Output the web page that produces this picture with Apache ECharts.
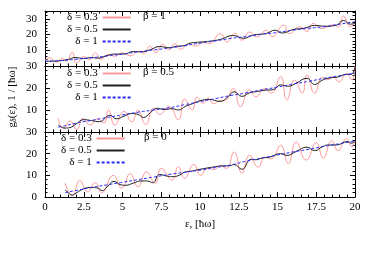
<!DOCTYPE html>
<html><head><meta charset="utf-8">
<script src="https://cdn.jsdelivr.net/npm/echarts@6/dist/echarts.min.js"></script>
<style>html,body{margin:0;padding:0;background:#fff}#c{width:375px;height:263px}</style>
</head><body><div id="c"></div>
<script>
const seriesNames = ['δ = 0.3', 'δ = 0.5', 'δ = 1'];
const panelLabels = ['β = 1', 'β = 0.5', 'β = 0'];
const panelMax = [35, 30, 30];
const xLabels = [0, 2.5, 5, 7.5, 10, 12.5, 15, 17.5, 20];

// beta = 1
const topPink = [[0,3.6],[0.3,5.2],[0.75,2.4],[1.1,4.8],[1.4,3.2],[1.75,8.8],[2.05,1.8],[2.5,6.0],[2.85,4.0],[3.25,8.4],[3.6,4.2],[4.1,7.4],[4.5,6.2],[5.0,8.4],[5.5,6.4],[6.0,9.4],[6.4,8.0],[6.75,12.6],[7.15,8.6],[7.6,13.8],[8.0,10.2],[8.35,14.2],[8.75,10.6],[9.3,14.4],[9.7,12.6],[10.2,15.0],[10.6,14.2],[11.3,20.6],[11.75,15.2],[12.25,20.8],[12.7,16.4],[13.2,21.6],[13.65,18.6],[14.3,22.8],[14.65,18.6],[15.4,26.0],[15.75,20.6],[16.45,25.0],[16.9,22.0],[17.3,27.2],[17.85,23.8],[18.6,26.2],[18.95,25.0],[19.25,31.8],[19.7,25.0],[20,27.4]];
const topBlack = [[0,3.0],[0.5,3.1],[1,3.4],[1.5,4.2],[1.95,5.4],[2.5,4.8],[3,5.4],[3.4,5.0],[4,6.6],[4.5,7.6],[5.1,7.6],[5.7,9.2],[6.2,9.0],[6.8,10.4],[7.4,12.4],[8.0,11.6],[8.5,12.6],[8.9,12.8],[9.4,14.6],[10,15.2],[10.8,16.0],[11.3,16.9],[12.15,19.4],[12.8,17.6],[13.4,19.6],[14.3,20.8],[14.85,22.8],[15.3,21.0],[16.0,23.2],[16.7,24.0],[17.4,25.8],[18.1,25.3],[18.8,26.0],[19.25,29.0],[19.7,26.6],[20,27.2]];
const topBlue = [[0,3.0],[1,3.4],[2,4.3],[3,5.2],[4,6.4],[5,7.6],[6,9.0],[7,10.2],[8,11.4],[9,12.9],[10,14.6],[11,16.0],[12,17.6],[13,18.8],[14,20.2],[15,21.4],[16,22.8],[17,24.0],[18,25.0],[19,26.6],[20,28.2]];

// beta = 0.5
const midPink = [[0.85,6.2],[1.2,1.5],[1.6,5.0],[2.05,1.2],[2.45,6.2],[2.9,3.2],[3.4,6.0],[3.8,4.0],[4.1,10.0],[4.5,3.2],[5.1,9.4],[5.6,4.6],[6.0,10.0],[6.5,3.4],[7.0,10.8],[7.4,8.0],[8.0,11.6],[8.6,5.5],[9.0,15.0],[9.5,10.0],[9.8,15.8],[10.2,13.0],[10.5,15.4],[10.9,12.8],[11.3,14.4],[11.6,14.4],[12.15,19.8],[12.6,11.5],[13.2,19.2],[13.6,16.0],[14.2,19.8],[14.6,17.6],[15.2,25.2],[15.6,14.5],[16.1,23.6],[16.6,17.6],[16.9,26.0],[17.4,17.6],[17.9,24.8],[18.3,23.8],[18.6,25.2],[18.95,22.8],[19.45,26.6],[19.8,23.6],[20,30]];
const midBlack = [[0.85,3.2],[1.3,1.8],[1.6,2.0],[2.0,3.6],[2.5,5.6],[3.0,5.2],[3.5,4.7],[4.2,7.6],[4.6,6.0],[5.1,7.2],[5.6,8.4],[6.0,8.0],[6.35,6.6],[6.8,8.8],[7.25,10.8],[7.7,10.2],[8.2,10.6],[8.6,10.0],[9.1,11.8],[9.5,12.8],[10,14.2],[10.6,14.8],[11.3,13.9],[11.8,16.0],[12.2,18.3],[12.7,16.2],[13.2,17.8],[13.7,18.4],[14.2,19.0],[14.7,19.2],[15.2,21.4],[15.7,20.8],[16.2,22.2],[16.9,24.4],[17.4,21.6],[17.9,23.6],[18.4,24.6],[18.9,25.0],[19.45,26.2],[19.75,26.2],[20,29.8]];
const midBlue = [[0.85,2.2],[1,2.4],[2,4.0],[3,5.3],[4,6.6],[5,7.8],[6,9.0],[7,10.0],[8,11.0],[9,12.4],[10,13.8],[11,15.2],[12,16.6],[13,17.8],[14,19.2],[15,20.4],[16,21.8],[17,23.0],[18,24.4],[19,25.6],[20,26.8]];

// beta = 0
const botPink = [[1.3,6.4],[1.75,0.6],[2.25,7.6],[2.75,2.4],[3.25,6.6],[3.65,2.0],[4.4,10.0],[4.95,4.0],[5.5,10.8],[6.0,4.7],[6.55,11.6],[7.1,6.3],[7.5,13.2],[8.2,7.8],[8.6,13.9],[9.0,8.6],[9.6,15.0],[10.05,10.0],[10.5,13.4],[10.9,12.6],[11.3,14.4],[11.7,13.2],[12.2,20.8],[12.7,10.9],[13.2,19.3],[13.75,13.8],[14.2,18.4],[14.6,17.6],[15.2,23.9],[15.7,15.4],[16.2,25.4],[16.85,17.0],[17.5,25.0],[17.95,18.0],[18.5,26.0],[18.9,21.4],[19.45,26.9],[19.8,23.2],[20,25.8]];
const botBlack = [[1.3,3.2],[1.5,2.0],[1.75,0.9],[2.0,1.8],[2.5,3.8],[3.0,4.4],[3.35,4.2],[3.7,3.0],[4.0,4.6],[4.45,7.2],[4.9,5.6],[5.2,5.4],[5.7,6.4],[6.2,7.4],[6.6,7.4],[6.95,6.6],[7.4,10.4],[7.9,9.6],[8.3,9.4],[8.7,10.2],[9.0,11.4],[9.5,12.0],[10,12.8],[10.5,13.4],[11,14.0],[11.5,14.4],[11.9,14.4],[12.2,15.0],[12.7,12.8],[13.3,17.4],[13.6,17.2],[14.0,18.0],[14.5,18.4],[15.2,20.0],[15.6,19.2],[16.2,21.0],[16.9,23.0],[17.4,21.4],[17.9,23.2],[18.3,24.0],[18.8,24.0],[19.5,25.6],[19.8,24.8],[20,26.2]];
const botBlue = [[1.3,2.0],[2,3.0],[3,4.4],[4,5.6],[5,6.8],[6,8.0],[7,9.2],[8,10.4],[9,11.4],[10,12.4],[11,13.6],[12,14.8],[13,16.6],[14,18.0],[15,19.4],[16,20.8],[17,22.0],[18,23.4],[19,24.6],[20,25.8]];

const panels = [[topPink, topBlack, topBlue], [midPink, midBlack, midBlue], [botPink, botBlack, botBlue]];

const FONT = 'Liberation Serif';
const gridTops = [11, 66, 132];
const gridHeights = [55, 66, 65];
const legendPos = [[67, 12], [67, 68], [61, 133]];
const betaPos = [[143, 17], [143, 73], [144, 138]];
const lineStyles = [
  {color: '#ff9a9a', width: 1, type: 'solid'},
  {color: '#222222', width: 1, type: 'solid'},
  {color: '#2a2aff', width: 1, type: [3, 2]}
];

const grid = [], xAxis = [], yAxis = [], series = [], legend = [], graphic = [];
const tickCommon = {
  axisLine: {show: true, onZero: false, lineStyle: {color: '#000', width: 1}},
  axisTick: {show: true, inside: true, length: 5, lineStyle: {color: '#000', width: 1}},
  minorTick: {show: true, splitNumber: 5, length: 2.5, lineStyle: {color: '#000', width: 1}},
  splitLine: {show: false}, minorSplitLine: {show: false}
};
for (let i = 0; i < 3; i++) {
  grid.push({left: 45, width: 310, top: gridTops[i], height: gridHeights[i]});
  xAxis.push(Object.assign({type: 'value', gridIndex: i, position: 'bottom', min: 0, max: 20, interval: 2.5,
    axisLabel: {show: i === 2, margin: 5, color: '#000', fontFamily: FONT, fontSize: 11,
      formatter: v => xLabels.indexOf(v) >= 0 ? String(v) : ''}}, tickCommon));
  xAxis.push(Object.assign({type: 'value', gridIndex: i, position: 'top', min: 0, max: 20, interval: 2.5,
    axisLabel: {show: false}}, tickCommon));
  yAxis.push(Object.assign({type: 'value', gridIndex: i, position: 'left', min: 0, max: panelMax[i], interval: 10,
    axisLabel: {show: true, margin: 8, color: '#000', fontFamily: FONT, fontSize: 11,
      showMinLabel: i === 2, showMaxLabel: panelMax[i] % 10 === 0,
      formatter: v => (v % 10 === 0) ? String(v) : ''}}, tickCommon));
  yAxis.push(Object.assign({type: 'value', gridIndex: i, position: 'right', min: 0, max: panelMax[i], interval: 10,
    axisLabel: {show: false}}, tickCommon));
  panels[i].forEach((d, k) => {
    series.push({type: 'line', name: seriesNames[k], xAxisIndex: 2 * i, yAxisIndex: 2 * i,
      data: d, symbol: 'none', smooth: 0.5, lineStyle: lineStyles[k], itemStyle: {color: lineStyles[k].color},
      silent: true, animation: false, z: 2 + k});
  });
  legend.push({orient: 'vertical', left: legendPos[i][0], top: legendPos[i][1], align: 'right',
    itemWidth: 28, itemHeight: 11, itemGap: 1, itemTextGap: 14, padding: 0, selectedMode: false,
    itemStyle: {opacity: 0, borderWidth: 0},
    data: seriesNames, formatter: n => '{t|' + n + '}',
    textStyle: {color: '#000', fontFamily: FONT, fontSize: 11,
      rich: {t: {width: 36, align: 'right', color: '#000', fontFamily: FONT, fontSize: 11}}}});
  graphic.push({type: 'text', left: betaPos[i][0], top: betaPos[i][1] - 6,
    style: {text: panelLabels[i], fill: '#000', font: '11px "Liberation Serif"'}});
}
graphic.push({type: 'text', x: 200, y: 224,
  style: {text: 'ε, [ħω]', fill: '#000', font: '11px "Liberation Serif"', textAlign: 'center', textVerticalAlign: 'middle'}});
graphic.push({type: 'text', x: 12, y: 97, rotation: Math.PI / 2,
  style: {text: '{a|g}{s|δ}{a|(ε), 1 / [ħω]}', fill: '#000', textAlign: 'center', textVerticalAlign: 'middle',
    rich: {a: {fontFamily: FONT, fontSize: 11, verticalAlign: 'bottom', fill: '#000'},
           s: {fontFamily: FONT, fontSize: 8, verticalAlign: 'bottom', fill: '#000'}}}});

const chart = echarts.init(document.getElementById('c'), null, {renderer: 'canvas'});
chart.setOption({animation: false, backgroundColor: '#fff', grid, xAxis, yAxis, series, legend, graphic});
</script></body></html>
